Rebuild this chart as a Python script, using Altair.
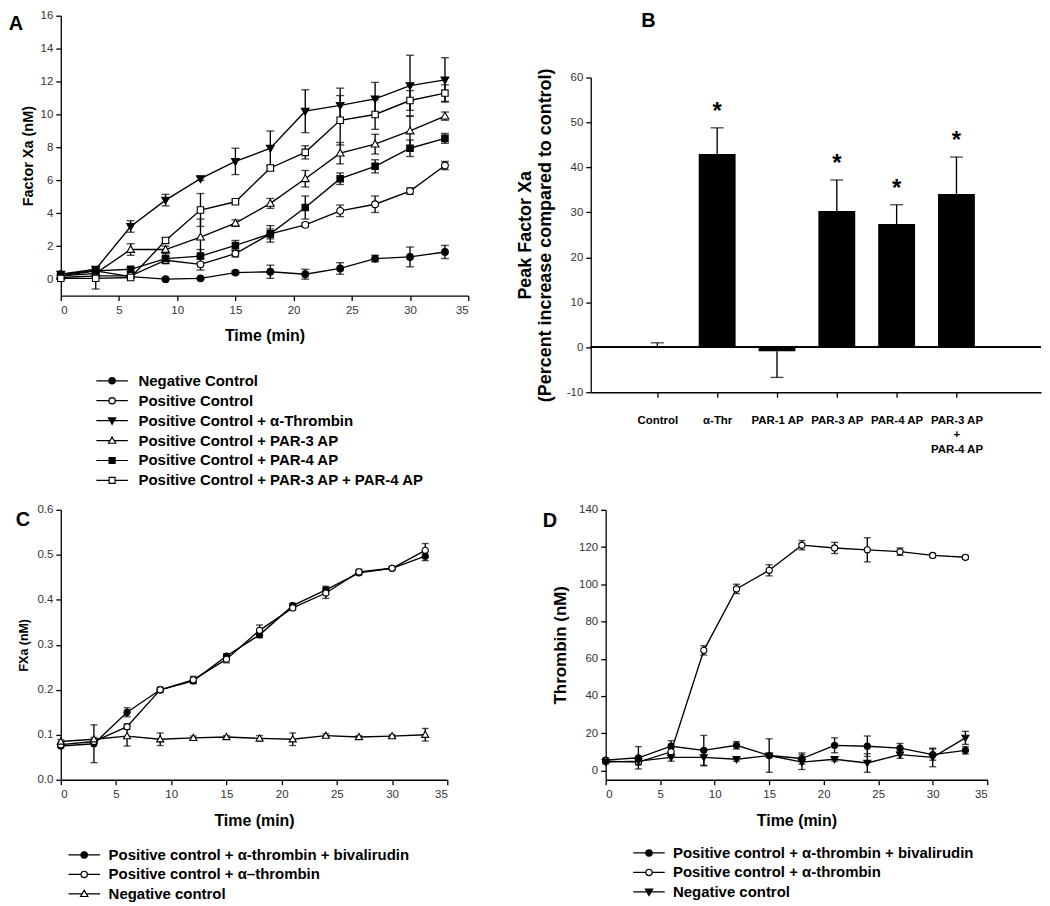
import json
import altair as alt
import pandas as pd

FONT = "Liberation Sans"

# ---------------- shared time axis ----------------
time_min = [0, 3, 6, 9, 12, 15, 18, 21, 24, 27, 30, 33]

# ---------------- Panel A ----------------
a_series = [
    "Negative Control",
    "Positive Control",
    "Positive Control + α-Thrombin",
    "Positive Control + PAR-3 AP",
    "Positive Control + PAR-4 AP",
    "Positive Control + PAR-3 AP + PAR-4 AP",
]
a_neg = [0.3, 0.5, 0.15, 0.0, 0.05, 0.4, 0.45, 0.3, 0.65, 1.25, 1.35, 1.65]
a_neg_err = [0.05, 0.1, 0.1, 0.05, 0.05, 0.1, 0.4, 0.3, 0.35, 0.2, 0.6, 0.4]
a_pos = [0.1, 0.2, 0.2, 1.15, 0.9, 1.55, 2.75, 3.3, 4.15, 4.55, 5.35, 6.9]
a_pos_err = [0.05, 0.1, 0.1, 0.2, 0.35, 0.2, 0.3, 0.1, 0.35, 0.5, 0.2, 0.25]
a_thr = [0.3, 0.6, 3.2, 4.8, 6.1, 7.15, 7.95, 10.2, 10.55, 10.95, 11.75, 12.1]
a_thr_err = [0.05, 0.15, 0.35, 0.35, 0.1, 0.8, 1.05, 1.3, 1.05, 1.0, 1.85, 1.35]
a_par3 = [0.2, 0.35, 1.8, 1.8, 2.55, 3.4, 4.6, 6.1, 7.65, 8.2, 9.0, 9.9]
a_par3_err = [0.05, 0.1, 0.35, 0.2, 1.1, 0.2, 0.3, 0.5, 0.65, 0.6, 0.9, 0.25]
a_par4 = [0.2, 0.5, 0.6, 1.25, 1.4, 2.05, 2.75, 4.35, 6.1, 6.85, 7.95, 8.55]
a_par4_err = [0.05, 0.1, 0.1, 0.3, 0.4, 0.3, 0.5, 0.7, 0.35, 0.4, 0.5, 0.3]
a_par34 = [0.05, 0.05, 0.1, 2.35, 4.2, 4.7, 6.75, 7.7, 9.65, 10.0, 10.85, 11.3]
a_par34_err = [0.05, 0.65, 0.05, 0.15, 1.0, 0.1, 0.15, 0.4, 1.5, 0.9, 0.6, 0.5]

# ---------------- Panel B ----------------
b_cats = ["Control", "α-Thr", "PAR-1 AP", "PAR-3 AP", "PAR-4 AP", "PAR-3 AP|+|PAR-4 AP"]
b_vals = [0.0, 43.0, -0.9, 30.3, 27.4, 34.1]
b_err = [1.0, 5.8, 5.8, 6.9, 4.3, 8.2]
b_sig = [False, True, False, True, True, True]

# ---------------- Panel C ----------------
c_series = [
    "Positive control + α-thrombin + bivalirudin",
    "Positive control + α\u2013thrombin",
    "Negative control",
]
c_biv = [0.075, 0.08, 0.15, 0.2, 0.22, 0.275, 0.322, 0.387, 0.422, 0.46, 0.47, 0.497]
c_biv_err = [0.004, 0.042, 0.01, 0.006, 0.006, 0.005, 0.006, 0.005, 0.008, 0.004, 0.003, 0.01]
c_thr = [0.078, 0.085, 0.118, 0.2, 0.222, 0.268, 0.332, 0.382, 0.415, 0.462, 0.47, 0.51]
c_thr_err = [0.004, 0.004, 0.006, 0.004, 0.008, 0.008, 0.012, 0.004, 0.012, 0.006, 0.003, 0.015]
c_neg = [0.085, 0.09, 0.097, 0.09, 0.093, 0.095, 0.092, 0.09, 0.098, 0.095, 0.097, 0.1]
c_neg_err = [0.004, 0.004, 0.022, 0.014, 0.004, 0.003, 0.006, 0.014, 0.004, 0.003, 0.003, 0.014]

# ---------------- Panel D ----------------
d_series = [
    "Positive control + α-thrombin + bivalirudin",
    "Positive control + α-thrombin",
    "Negative control",
]
d_biv = [5.5, 6.8, 13.0, 10.8, 13.5, 8.0, 6.4, 13.5, 13.0, 12.0, 8.5, 10.8]
d_biv_err = [1.0, 6.0, 3.0, 8.0, 2.0, 9.0, 3.0, 4.0, 5.5, 2.5, 3.0, 2.0]
d_thr = [5.0, 4.5, 10.0, 64.5, 97.5, 107.5, 121.0, 119.5, 118.5, 117.5, 115.5, 114.5]
d_thr_err = [1.0, 1.5, 2.0, 2.5, 2.5, 3.0, 2.5, 3.0, 6.5, 2.0, 1.0, 1.0]
d_neg = [4.5, 5.0, 7.0, 7.0, 6.0, 8.0, 4.5, 6.0, 4.0, 8.5, 7.0, 17.5]
d_neg_err = [1.0, 1.0, 2.0, 4.5, 1.0, 1.0, 4.0, 1.0, 5.0, 2.0, 5.0, 3.5]

# ---------------- marker shapes (unit paths) ----------------
CIRCLE = "M1,0A1,1 0 1,1 -1,0A1,1 0 1,1 1,0Z"
TRI_DOWN = "M-1.15,-0.85L1.15,-0.85L0,1.15Z"
TRI_UP = "M0,-1.15L1.15,0.85L-1.15,0.85Z"
SQUARE = "M-0.95,-0.95H0.95V0.95H-0.95Z"
FULL_LINE = "M-5,0H5 "
LW = 1.35


def split_line(edge):
    return "M-5,0H-%g M%g,0H5 " % (edge, edge)


def long_table(names, values, errors):
    rows = []
    for name, vals, errs in zip(names, values, errors):
        for t, v, e in zip(time_min, vals, errs):
            rows.append({"series": name, "t": t, "v": v, "lo": v - e, "hi": v + e})
    return pd.DataFrame(rows)


def line_panel(df, names, shapes, legend_shapes, fills, ydom, yvals, yfmt, w, h,
               ytitle, ytitle_size, ytitle_pad, letter, letter_x, letter_y,
               leg_x, leg_y, leg_row_pad, leg_label_off, pt_size, cap):
    xsc = alt.Scale(domain=[0, 35], nice=False, zero=False)
    ysc = alt.Scale(domain=ydom, nice=False, zero=False)
    xax = alt.Axis(grid=False, values=list(range(0, 36, 5)), title="Time (min)",
                   titleFontSize=16, titlePadding=12, labelPadding=4)
    yax = alt.Axis(grid=False, values=yvals, format=yfmt, title=ytitle,
                   titleFontSize=ytitle_size, titlePadding=ytitle_pad, labelPadding=3)

    def X():
        return alt.X("t:Q", scale=xsc, axis=xax)

    def Y(field):
        return alt.Y(field + ":Q", scale=ysc, axis=yax)

    base = alt.Chart(df)
    lines = base.mark_line(color="black", strokeWidth=LW).encode(
        x=X(), y=Y("v"), detail="series:N")
    bars = base.mark_rule(color="black", strokeWidth=LW).encode(
        x=X(), y=Y("lo"), y2="hi:Q")
    cap_lo = base.mark_tick(color="black", orient="horizontal", size=cap, thickness=LW).encode(
        x=X(), y=Y("lo"))
    cap_hi = base.mark_tick(color="black", orient="horizontal", size=cap, thickness=LW).encode(
        x=X(), y=Y("hi"))
    pts = base.mark_point(filled=True, stroke="black", strokeWidth=1.1, size=pt_size, opacity=1).encode(
        x=X(), y=Y("v"),
        shape=alt.Shape("series:N", scale=alt.Scale(domain=names, range=shapes), legend=None),
        fill=alt.Fill("series:N", scale=alt.Scale(domain=names, range=fills), legend=None),
    )
    leg = alt.Legend(orient="none", legendX=leg_x, legendY=leg_y, title=None,
                     labelFont=FONT, labelFontSize=15, labelFontWeight="bold",
                     labelColor="black", symbolSize=40, symbolStrokeWidth=1.2,
                     labelOffset=leg_label_off, rowPadding=leg_row_pad, labelLimit=600)
    legend_layer = base.transform_filter("datum.t < -100").mark_point(
        filled=True, strokeWidth=1.2, size=40, opacity=1).encode(
        x=X(), y=Y("v"),
        shape=alt.Shape("series:N", scale=alt.Scale(domain=names, range=legend_shapes), legend=leg),
        fill=alt.Fill("series:N", scale=alt.Scale(domain=names, range=fills), legend=leg),
        stroke=alt.Stroke("series:N", scale=alt.Scale(domain=names, range=["black"] * len(names)),
                          legend=leg),
    )
    lab = alt.Chart(pd.DataFrame({"letter": [letter]})).mark_text(
        font=FONT, fontSize=20, fontWeight="bold", color="black",
        align="center", baseline="middle").encode(
        x=alt.value(letter_x), y=alt.value(letter_y), text="letter:N")
    return alt.layer(lines, bars, cap_lo, cap_hi, pts, legend_layer, lab).resolve_scale(
        shape="independent", fill="independent", stroke="independent").properties(width=w, height=h)


# ---------- Panel A ----------
a_df = long_table(a_series,
                  [a_neg, a_pos, a_thr, a_par3, a_par4, a_par34],
                  [a_neg_err, a_pos_err, a_thr_err, a_par3_err, a_par4_err, a_par34_err])
a_shapes = [CIRCLE, CIRCLE, TRI_DOWN, TRI_UP, SQUARE, SQUARE]
a_leg_shapes = [FULL_LINE + CIRCLE, split_line(1) + CIRCLE, FULL_LINE + TRI_DOWN,
                split_line(0.66) + TRI_UP, FULL_LINE + SQUARE, split_line(0.95) + SQUARE]
a_fills = ["black", "white", "black", "white", "black", "white"]
panel_a = line_panel(a_df, a_series, a_shapes, a_leg_shapes, a_fills,
                     [-1, 16], list(range(0, 17, 2)), "d", 409, 281,
                     "Factor Xa (nM)", 14.5, 5, "A", -45, 8,
                     44, 359, 4, 19, 46, 8)

# ---------- Panel B ----------
b_rows = []
for i, (c, v, e, s) in enumerate(zip(b_cats, b_vals, b_err, b_sig)):
    sign = -1 if v < 0 else 1
    b_rows.append({"pos": i + 1, "cat": c, "v": v, "tip": v + sign * e, "sig": s})
b_df = pd.DataFrame(b_rows)
B_H = 378          # view height; the value axis occupies its lower part
B_TOP = 62         # pixel where the value 60 sits inside the view
label_expr = "split(%s[datum.value - 1], '|')" % json.dumps(b_cats)
bx = alt.Scale(domain=[-0.03, 7.33], nice=False, zero=False)
by = alt.Scale(domain=[-10, 60], range=[B_H, B_TOP], nice=False, zero=False)
bxax = alt.Axis(grid=False, values=list(range(1, 7)), labelExpr=label_expr, title=None,
                labelFontWeight="bold", labelFontSize=11.5, labelColor="black",
                labelPadding=17, labelLineHeight=14.5)
byax = alt.Axis(grid=False, values=list(range(-10, 61, 10)),
                title=["Peak Factor Xa", "(Percent increase compared to control)"],
                titleFontSize=18, titleLineHeight=20, titlePadding=12, labelPadding=3,
                titleY=(B_H + B_TOP) / 2,
                labelExpr="replace(datum.label, '\u2212', '-')")
b_base = alt.Chart(b_df)
b_bars = b_base.mark_bar(color="black", size=37).encode(
    x=alt.X("pos:Q", scale=bx, axis=bxax), y=alt.Y("v:Q", scale=by, axis=byax))
b_zero = b_base.mark_rule(color="black", strokeWidth=LW).encode(y=alt.datum(0))
b_errs = b_base.mark_rule(color="black", strokeWidth=LW).encode(
    x=alt.X("pos:Q", scale=bx, axis=bxax), y=alt.Y("v:Q", scale=by, axis=byax), y2="tip:Q")
b_caps = b_base.mark_tick(color="black", orient="horizontal", size=13, thickness=LW).encode(
    x=alt.X("pos:Q", scale=bx, axis=bxax), y=alt.Y("tip:Q", scale=by, axis=byax))
b_stars = b_base.transform_filter("datum.sig").mark_text(
    text="*", font=FONT, fontSize=24, fontWeight="bold", color="black",
    baseline="middle", dy=-16).encode(
    x=alt.X("pos:Q", scale=bx, axis=bxax), y=alt.Y("tip:Q", scale=by, axis=byax))
b_lab = alt.Chart(pd.DataFrame({"letter": ["B"]})).mark_text(
    font=FONT, fontSize=20, fontWeight="bold", color="black",
    align="center", baseline="middle").encode(
    x=alt.value(58), y=alt.value(5), text="letter:N")
panel_b = alt.layer(b_bars, b_zero, b_errs, b_caps, b_stars, b_lab).properties(width=452, height=B_H)

# ---------- Panel C ----------
c_df = long_table(c_series, [c_biv, c_thr, c_neg], [c_biv_err, c_thr_err, c_neg_err])
c_shapes = [CIRCLE, CIRCLE, TRI_UP]
c_leg_shapes = [FULL_LINE + CIRCLE, split_line(1) + CIRCLE, split_line(0.66) + TRI_UP]
c_fills = ["black", "white", "white"]
panel_c = line_panel(c_df, c_series, c_shapes, c_leg_shapes, c_fills,
                     [0, 0.6], [0, 0.1, 0.2, 0.3, 0.4, 0.5, 0.6], ".1f", 388, 271,
                     "FXa (nM)", 12.5, 6, "C", -38, 10,
                     16, 339, 3.5, 17, 38, 7)

# ---------- Panel D ----------
d_df = long_table(d_series, [d_biv, d_thr, d_neg], [d_biv_err, d_thr_err, d_neg_err])
d_shapes = [CIRCLE, CIRCLE, TRI_DOWN]
d_leg_shapes = [FULL_LINE + CIRCLE, split_line(1) + CIRCLE, FULL_LINE + TRI_DOWN]
d_fills = ["black", "white", "black"]
panel_d = line_panel(d_df, d_series, d_shapes, d_leg_shapes, d_fills,
                     [-5, 140], list(range(0, 141, 20)), "d", 383, 271,
                     "Thrombin (nM)", 17, 9, "D", -56, 11,
                     36, 337, 3.5, 16.5, 38, 7)

top = alt.hconcat(panel_a, panel_b, spacing=47).resolve_scale(
    shape="independent", fill="independent", stroke="independent")
bottom = alt.hconcat(panel_c, panel_d, spacing=94).resolve_scale(
    shape="independent", fill="independent", stroke="independent")

chart = alt.vconcat(top, bottom, spacing=15).resolve_scale(
    shape="independent", fill="independent", stroke="independent"
).properties(padding=0).configure_view(stroke=None).configure_axis(
    domainColor="black", tickColor="black", domainWidth=1.3, tickWidth=1.3, tickSize=5,
    labelFont=FONT, titleFont=FONT, labelFontSize=11.5, labelColor="#333",
    titleColor="black", titleFontWeight="bold",
).configure_text(font=FONT)

chart.save("out.html", embed_options={"renderer": "svg", "actions": False})
